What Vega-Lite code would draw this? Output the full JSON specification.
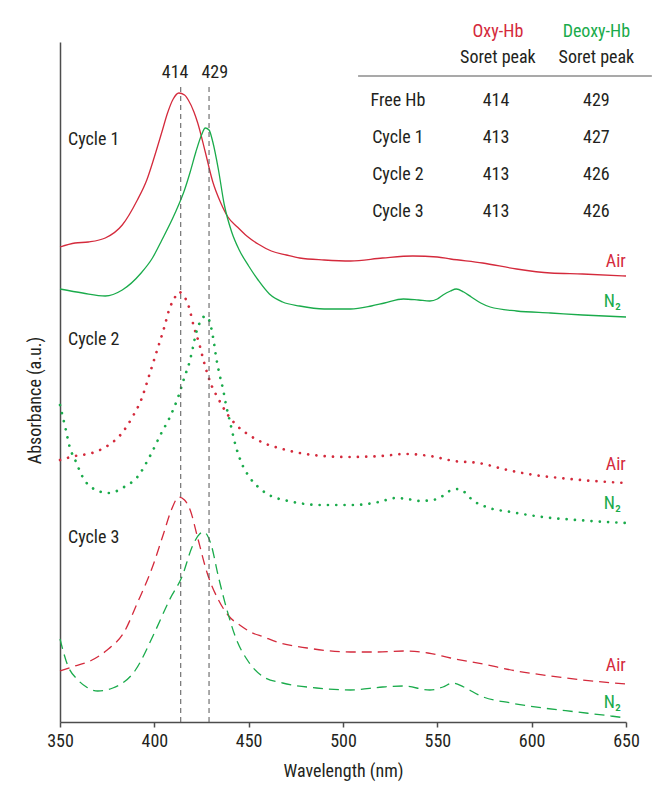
{
  "$schema": "https://vega.github.io/schema/vega-lite/v6.json",
  "width": 566,
  "height": 680,
  "autosize": {"type": "none"},
  "padding": {"left": 60, "top": 42, "right": 42, "bottom": 73},
  "config": {
    "font": "Roboto Condensed",
    "view": {"stroke": null},
    "text": {"fontSize": 18, "color": "#231f20"}
  },
  "datasets": {
    "spectra": [
      {"nm":350,"A":4.75,"gas":"Air","cycle":"Cycle 1"},{"nm":358,"A":4.79,"gas":"Air","cycle":"Cycle 1"},{"nm":365,"A":4.80,"gas":"Air","cycle":"Cycle 1"},{"nm":374,"A":4.84,"gas":"Air","cycle":"Cycle 1"},{"nm":383,"A":4.97,"gas":"Air","cycle":"Cycle 1"},{"nm":391,"A":5.22,"gas":"Air","cycle":"Cycle 1"},{"nm":396,"A":5.42,"gas":"Air","cycle":"Cycle 1"},{"nm":400,"A":5.65,"gas":"Air","cycle":"Cycle 1"},{"nm":404,"A":5.90,"gas":"Air","cycle":"Cycle 1"},{"nm":407,"A":6.09,"gas":"Air","cycle":"Cycle 1"},{"nm":410,"A":6.23,"gas":"Air","cycle":"Cycle 1"},{"nm":413,"A":6.29,"gas":"Air","cycle":"Cycle 1"},{"nm":416,"A":6.27,"gas":"Air","cycle":"Cycle 1"},{"nm":418,"A":6.22,"gas":"Air","cycle":"Cycle 1"},{"nm":421,"A":6.10,"gas":"Air","cycle":"Cycle 1"},{"nm":423,"A":5.99,"gas":"Air","cycle":"Cycle 1"},{"nm":427,"A":5.70,"gas":"Air","cycle":"Cycle 1"},{"nm":431,"A":5.40,"gas":"Air","cycle":"Cycle 1"},{"nm":435,"A":5.20,"gas":"Air","cycle":"Cycle 1"},{"nm":439,"A":5.05,"gas":"Air","cycle":"Cycle 1"},{"nm":444,"A":4.95,"gas":"Air","cycle":"Cycle 1"},{"nm":449,"A":4.86,"gas":"Air","cycle":"Cycle 1"},{"nm":455,"A":4.78,"gas":"Air","cycle":"Cycle 1"},{"nm":462,"A":4.71,"gas":"Air","cycle":"Cycle 1"},{"nm":470,"A":4.67,"gas":"Air","cycle":"Cycle 1"},{"nm":477,"A":4.64,"gas":"Air","cycle":"Cycle 1"},{"nm":490,"A":4.62,"gas":"Air","cycle":"Cycle 1"},{"nm":504,"A":4.61,"gas":"Air","cycle":"Cycle 1"},{"nm":521,"A":4.64,"gas":"Air","cycle":"Cycle 1"},{"nm":537,"A":4.66,"gas":"Air","cycle":"Cycle 1"},{"nm":550,"A":4.65,"gas":"Air","cycle":"Cycle 1"},{"nm":557,"A":4.63,"gas":"Air","cycle":"Cycle 1"},{"nm":574,"A":4.59,"gas":"Air","cycle":"Cycle 1"},{"nm":592,"A":4.53,"gas":"Air","cycle":"Cycle 1"},{"nm":610,"A":4.49,"gas":"Air","cycle":"Cycle 1"},{"nm":627,"A":4.48,"gas":"Air","cycle":"Cycle 1"},{"nm":650,"A":4.46,"gas":"Air","cycle":"Cycle 1"},
      {"nm":350,"A":4.33,"gas":"N2","cycle":"Cycle 1"},{"nm":362,"A":4.29,"gas":"N2","cycle":"Cycle 1"},{"nm":374,"A":4.26,"gas":"N2","cycle":"Cycle 1"},{"nm":383,"A":4.32,"gas":"N2","cycle":"Cycle 1"},{"nm":393,"A":4.49,"gas":"N2","cycle":"Cycle 1"},{"nm":399,"A":4.64,"gas":"N2","cycle":"Cycle 1"},{"nm":404,"A":4.82,"gas":"N2","cycle":"Cycle 1"},{"nm":411,"A":5.09,"gas":"N2","cycle":"Cycle 1"},{"nm":416,"A":5.32,"gas":"N2","cycle":"Cycle 1"},{"nm":419,"A":5.50,"gas":"N2","cycle":"Cycle 1"},{"nm":422,"A":5.70,"gas":"N2","cycle":"Cycle 1"},{"nm":425,"A":5.87,"gas":"N2","cycle":"Cycle 1"},{"nm":427,"A":5.94,"gas":"N2","cycle":"Cycle 1"},{"nm":429,"A":5.92,"gas":"N2","cycle":"Cycle 1"},{"nm":431,"A":5.80,"gas":"N2","cycle":"Cycle 1"},{"nm":434,"A":5.52,"gas":"N2","cycle":"Cycle 1"},{"nm":437,"A":5.18,"gas":"N2","cycle":"Cycle 1"},{"nm":441,"A":4.90,"gas":"N2","cycle":"Cycle 1"},{"nm":445,"A":4.72,"gas":"N2","cycle":"Cycle 1"},{"nm":450,"A":4.56,"gas":"N2","cycle":"Cycle 1"},{"nm":455,"A":4.42,"gas":"N2","cycle":"Cycle 1"},{"nm":461,"A":4.28,"gas":"N2","cycle":"Cycle 1"},{"nm":468,"A":4.20,"gas":"N2","cycle":"Cycle 1"},{"nm":477,"A":4.16,"gas":"N2","cycle":"Cycle 1"},{"nm":490,"A":4.13,"gas":"N2","cycle":"Cycle 1"},{"nm":504,"A":4.13,"gas":"N2","cycle":"Cycle 1"},{"nm":515,"A":4.16,"gas":"N2","cycle":"Cycle 1"},{"nm":522,"A":4.19,"gas":"N2","cycle":"Cycle 1"},{"nm":532,"A":4.23,"gas":"N2","cycle":"Cycle 1"},{"nm":540,"A":4.22,"gas":"N2","cycle":"Cycle 1"},{"nm":546,"A":4.21,"gas":"N2","cycle":"Cycle 1"},{"nm":550,"A":4.23,"gas":"N2","cycle":"Cycle 1"},{"nm":553,"A":4.27,"gas":"N2","cycle":"Cycle 1"},{"nm":557,"A":4.31,"gas":"N2","cycle":"Cycle 1"},{"nm":560,"A":4.33,"gas":"N2","cycle":"Cycle 1"},{"nm":564,"A":4.30,"gas":"N2","cycle":"Cycle 1"},{"nm":568,"A":4.25,"gas":"N2","cycle":"Cycle 1"},{"nm":573,"A":4.19,"gas":"N2","cycle":"Cycle 1"},{"nm":578,"A":4.15,"gas":"N2","cycle":"Cycle 1"},{"nm":592,"A":4.11,"gas":"N2","cycle":"Cycle 1"},{"nm":610,"A":4.09,"gas":"N2","cycle":"Cycle 1"},{"nm":627,"A":4.07,"gas":"N2","cycle":"Cycle 1"},{"nm":650,"A":4.05,"gas":"N2","cycle":"Cycle 1"},
      {"nm":350,"A":2.62,"gas":"Air","cycle":"Cycle 2"},{"nm":358,"A":2.66,"gas":"Air","cycle":"Cycle 2"},{"nm":367,"A":2.69,"gas":"Air","cycle":"Cycle 2"},{"nm":375,"A":2.76,"gas":"Air","cycle":"Cycle 2"},{"nm":382,"A":2.87,"gas":"Air","cycle":"Cycle 2"},{"nm":389,"A":3.07,"gas":"Air","cycle":"Cycle 2"},{"nm":393,"A":3.22,"gas":"Air","cycle":"Cycle 2"},{"nm":397,"A":3.45,"gas":"Air","cycle":"Cycle 2"},{"nm":401,"A":3.69,"gas":"Air","cycle":"Cycle 2"},{"nm":405,"A":3.93,"gas":"Air","cycle":"Cycle 2"},{"nm":408,"A":4.13,"gas":"Air","cycle":"Cycle 2"},{"nm":411,"A":4.25,"gas":"Air","cycle":"Cycle 2"},{"nm":413,"A":4.30,"gas":"Air","cycle":"Cycle 2"},{"nm":416,"A":4.25,"gas":"Air","cycle":"Cycle 2"},{"nm":418,"A":4.17,"gas":"Air","cycle":"Cycle 2"},{"nm":421,"A":3.95,"gas":"Air","cycle":"Cycle 2"},{"nm":424,"A":3.77,"gas":"Air","cycle":"Cycle 2"},{"nm":426,"A":3.62,"gas":"Air","cycle":"Cycle 2"},{"nm":430,"A":3.38,"gas":"Air","cycle":"Cycle 2"},{"nm":434,"A":3.23,"gas":"Air","cycle":"Cycle 2"},{"nm":439,"A":3.07,"gas":"Air","cycle":"Cycle 2"},{"nm":444,"A":2.96,"gas":"Air","cycle":"Cycle 2"},{"nm":451,"A":2.86,"gas":"Air","cycle":"Cycle 2"},{"nm":458,"A":2.79,"gas":"Air","cycle":"Cycle 2"},{"nm":468,"A":2.73,"gas":"Air","cycle":"Cycle 2"},{"nm":484,"A":2.67,"gas":"Air","cycle":"Cycle 2"},{"nm":502,"A":2.65,"gas":"Air","cycle":"Cycle 2"},{"nm":520,"A":2.66,"gas":"Air","cycle":"Cycle 2"},{"nm":533,"A":2.68,"gas":"Air","cycle":"Cycle 2"},{"nm":546,"A":2.66,"gas":"Air","cycle":"Cycle 2"},{"nm":559,"A":2.61,"gas":"Air","cycle":"Cycle 2"},{"nm":572,"A":2.59,"gas":"Air","cycle":"Cycle 2"},{"nm":585,"A":2.53,"gas":"Air","cycle":"Cycle 2"},{"nm":598,"A":2.48,"gas":"Air","cycle":"Cycle 2"},{"nm":615,"A":2.44,"gas":"Air","cycle":"Cycle 2"},{"nm":633,"A":2.41,"gas":"Air","cycle":"Cycle 2"},{"nm":650,"A":2.39,"gas":"Air","cycle":"Cycle 2"},
      {"nm":350,"A":3.17,"gas":"N2","cycle":"Cycle 2"},{"nm":351,"A":3.09,"gas":"N2","cycle":"Cycle 2"},{"nm":353,"A":2.93,"gas":"N2","cycle":"Cycle 2"},{"nm":355,"A":2.76,"gas":"N2","cycle":"Cycle 2"},{"nm":358.5,"A":2.60,"gas":"N2","cycle":"Cycle 2"},{"nm":362,"A":2.45,"gas":"N2","cycle":"Cycle 2"},{"nm":368,"A":2.33,"gas":"N2","cycle":"Cycle 2"},{"nm":376,"A":2.29,"gas":"N2","cycle":"Cycle 2"},{"nm":384,"A":2.35,"gas":"N2","cycle":"Cycle 2"},{"nm":391,"A":2.45,"gas":"N2","cycle":"Cycle 2"},{"nm":398,"A":2.67,"gas":"N2","cycle":"Cycle 2"},{"nm":404,"A":2.90,"gas":"N2","cycle":"Cycle 2"},{"nm":408,"A":3.04,"gas":"N2","cycle":"Cycle 2"},{"nm":413,"A":3.27,"gas":"N2","cycle":"Cycle 2"},{"nm":416,"A":3.45,"gas":"N2","cycle":"Cycle 2"},{"nm":418.5,"A":3.59,"gas":"N2","cycle":"Cycle 2"},{"nm":420.5,"A":3.75,"gas":"N2","cycle":"Cycle 2"},{"nm":422,"A":3.88,"gas":"N2","cycle":"Cycle 2"},{"nm":424,"A":3.99,"gas":"N2","cycle":"Cycle 2"},{"nm":426,"A":4.05,"gas":"N2","cycle":"Cycle 2"},{"nm":427,"A":4.06,"gas":"N2","cycle":"Cycle 2"},{"nm":429,"A":4.02,"gas":"N2","cycle":"Cycle 2"},{"nm":431,"A":3.86,"gas":"N2","cycle":"Cycle 2"},{"nm":433,"A":3.62,"gas":"N2","cycle":"Cycle 2"},{"nm":434.5,"A":3.48,"gas":"N2","cycle":"Cycle 2"},{"nm":436.5,"A":3.32,"gas":"N2","cycle":"Cycle 2"},{"nm":438,"A":3.17,"gas":"N2","cycle":"Cycle 2"},{"nm":440,"A":3.01,"gas":"N2","cycle":"Cycle 2"},{"nm":443,"A":2.77,"gas":"N2","cycle":"Cycle 2"},{"nm":446,"A":2.60,"gas":"N2","cycle":"Cycle 2"},{"nm":450,"A":2.46,"gas":"N2","cycle":"Cycle 2"},{"nm":455,"A":2.35,"gas":"N2","cycle":"Cycle 2"},{"nm":459,"A":2.29,"gas":"N2","cycle":"Cycle 2"},{"nm":471,"A":2.21,"gas":"N2","cycle":"Cycle 2"},{"nm":489,"A":2.17,"gas":"N2","cycle":"Cycle 2"},{"nm":506,"A":2.17,"gas":"N2","cycle":"Cycle 2"},{"nm":519,"A":2.20,"gas":"N2","cycle":"Cycle 2"},{"nm":528,"A":2.24,"gas":"N2","cycle":"Cycle 2"},{"nm":534,"A":2.23,"gas":"N2","cycle":"Cycle 2"},{"nm":541,"A":2.21,"gas":"N2","cycle":"Cycle 2"},{"nm":550,"A":2.23,"gas":"N2","cycle":"Cycle 2"},{"nm":556.5,"A":2.31,"gas":"N2","cycle":"Cycle 2"},{"nm":561,"A":2.33,"gas":"N2","cycle":"Cycle 2"},{"nm":565,"A":2.29,"gas":"N2","cycle":"Cycle 2"},{"nm":568,"A":2.23,"gas":"N2","cycle":"Cycle 2"},{"nm":576,"A":2.15,"gas":"N2","cycle":"Cycle 2"},{"nm":589,"A":2.10,"gas":"N2","cycle":"Cycle 2"},{"nm":606,"A":2.05,"gas":"N2","cycle":"Cycle 2"},{"nm":624,"A":2.02,"gas":"N2","cycle":"Cycle 2"},{"nm":650,"A":1.99,"gas":"N2","cycle":"Cycle 2"},
      {"nm":350,"A":0.51,"gas":"Air","cycle":"Cycle 3"},{"nm":358,"A":0.56,"gas":"Air","cycle":"Cycle 3"},{"nm":367,"A":0.62,"gas":"Air","cycle":"Cycle 3"},{"nm":375,"A":0.72,"gas":"Air","cycle":"Cycle 3"},{"nm":384,"A":0.90,"gas":"Air","cycle":"Cycle 3"},{"nm":391,"A":1.19,"gas":"Air","cycle":"Cycle 3"},{"nm":399,"A":1.55,"gas":"Air","cycle":"Cycle 3"},{"nm":405,"A":1.89,"gas":"Air","cycle":"Cycle 3"},{"nm":409,"A":2.12,"gas":"Air","cycle":"Cycle 3"},{"nm":413,"A":2.25,"gas":"Air","cycle":"Cycle 3"},{"nm":416,"A":2.22,"gas":"Air","cycle":"Cycle 3"},{"nm":419,"A":2.12,"gas":"Air","cycle":"Cycle 3"},{"nm":423,"A":1.84,"gas":"Air","cycle":"Cycle 3"},{"nm":428,"A":1.49,"gas":"Air","cycle":"Cycle 3"},{"nm":434,"A":1.22,"gas":"Air","cycle":"Cycle 3"},{"nm":439,"A":1.07,"gas":"Air","cycle":"Cycle 3"},{"nm":446,"A":0.96,"gas":"Air","cycle":"Cycle 3"},{"nm":451,"A":0.90,"gas":"Air","cycle":"Cycle 3"},{"nm":458,"A":0.85,"gas":"Air","cycle":"Cycle 3"},{"nm":465,"A":0.80,"gas":"Air","cycle":"Cycle 3"},{"nm":481,"A":0.74,"gas":"Air","cycle":"Cycle 3"},{"nm":504,"A":0.70,"gas":"Air","cycle":"Cycle 3"},{"nm":518,"A":0.70,"gas":"Air","cycle":"Cycle 3"},{"nm":532,"A":0.71,"gas":"Air","cycle":"Cycle 3"},{"nm":545,"A":0.69,"gas":"Air","cycle":"Cycle 3"},{"nm":557,"A":0.64,"gas":"Air","cycle":"Cycle 3"},{"nm":574,"A":0.58,"gas":"Air","cycle":"Cycle 3"},{"nm":592,"A":0.51,"gas":"Air","cycle":"Cycle 3"},{"nm":610,"A":0.46,"gas":"Air","cycle":"Cycle 3"},{"nm":627,"A":0.42,"gas":"Air","cycle":"Cycle 3"},{"nm":650,"A":0.38,"gas":"Air","cycle":"Cycle 3"},
      {"nm":350,"A":0.83,"gas":"N2","cycle":"Cycle 3"},{"nm":354,"A":0.57,"gas":"N2","cycle":"Cycle 3"},{"nm":359.5,"A":0.42,"gas":"N2","cycle":"Cycle 3"},{"nm":364,"A":0.35,"gas":"N2","cycle":"Cycle 3"},{"nm":370,"A":0.31,"gas":"N2","cycle":"Cycle 3"},{"nm":378,"A":0.34,"gas":"N2","cycle":"Cycle 3"},{"nm":390,"A":0.52,"gas":"N2","cycle":"Cycle 3"},{"nm":400,"A":0.89,"gas":"N2","cycle":"Cycle 3"},{"nm":408,"A":1.22,"gas":"N2","cycle":"Cycle 3"},{"nm":415,"A":1.47,"gas":"N2","cycle":"Cycle 3"},{"nm":420,"A":1.75,"gas":"N2","cycle":"Cycle 3"},{"nm":424,"A":1.88,"gas":"N2","cycle":"Cycle 3"},{"nm":426,"A":1.90,"gas":"N2","cycle":"Cycle 3"},{"nm":428,"A":1.87,"gas":"N2","cycle":"Cycle 3"},{"nm":430,"A":1.78,"gas":"N2","cycle":"Cycle 3"},{"nm":434,"A":1.45,"gas":"N2","cycle":"Cycle 3"},{"nm":438.5,"A":1.12,"gas":"N2","cycle":"Cycle 3"},{"nm":443,"A":0.85,"gas":"N2","cycle":"Cycle 3"},{"nm":450,"A":0.60,"gas":"N2","cycle":"Cycle 3"},{"nm":458,"A":0.45,"gas":"N2","cycle":"Cycle 3"},{"nm":468,"A":0.39,"gas":"N2","cycle":"Cycle 3"},{"nm":486,"A":0.34,"gas":"N2","cycle":"Cycle 3"},{"nm":504,"A":0.32,"gas":"N2","cycle":"Cycle 3"},{"nm":521,"A":0.35,"gas":"N2","cycle":"Cycle 3"},{"nm":532,"A":0.36,"gas":"N2","cycle":"Cycle 3"},{"nm":546,"A":0.32,"gas":"N2","cycle":"Cycle 3"},{"nm":553,"A":0.35,"gas":"N2","cycle":"Cycle 3"},{"nm":558,"A":0.39,"gas":"N2","cycle":"Cycle 3"},{"nm":564,"A":0.35,"gas":"N2","cycle":"Cycle 3"},{"nm":573,"A":0.26,"gas":"N2","cycle":"Cycle 3"},{"nm":589,"A":0.19,"gas":"N2","cycle":"Cycle 3"},{"nm":606,"A":0.14,"gas":"N2","cycle":"Cycle 3"},{"nm":624,"A":0.10,"gas":"N2","cycle":"Cycle 3"},{"nm":642,"A":0.06,"gas":"N2","cycle":"Cycle 3"},{"nm":650,"A":0.04,"gas":"N2","cycle":"Cycle 3"}
    ],
    "peaks": [{"peak": 414}, {"peak": 429}]
  },
  "layer": [
    {
      "data": {"name": "spectra"},
      "transform": [{"filter": "datum.cycle === 'Cycle 1'"}],
      "mark": {"type": "line", "interpolate": "monotone", "strokeWidth": 1.3},
      "encoding": {
        "x": {"field": "nm", "type": "quantitative", "scale": {"domain": [350, 650], "nice": false, "zero": false},
          "axis": {"values": [350, 400, 450, 500, 550, 600, 650], "format": "d", "title": "Wavelength (nm)", "grid": false,
            "domainColor": "#4d4d4d", "domainWidth": 1.5, "tickColor": "#4d4d4d", "tickWidth": 1.5, "tickSize": 5,
            "labelFont": "Roboto Condensed", "labelFontSize": 18, "labelColor": "#231f20", "labelPadding": 5, "labelFlush": false,
            "titleFont": "Roboto Condensed", "titleFontSize": 18, "titleFontWeight": "normal", "titleColor": "#231f20", "titleY": 49, "titleBaseline": "middle"}},
        "y": {"field": "A", "type": "quantitative", "scale": {"domain": [0, 6.8], "nice": false, "zero": false},
          "axis": {"title": "Absorbance (a.u.)", "labels": false, "ticks": false, "grid": false,
            "domainColor": "#4d4d4d", "domainWidth": 1.5, "titleFont": "Roboto Condensed", "titleFontSize": 18, "titleFontWeight": "normal", "titleColor": "#231f20",
            "titleX": -25, "titleY": 358, "titleAngle": -90, "titleBaseline": "middle", "titleAlign": "center"}},
        "color": {"field": "gas", "type": "nominal", "scale": {"domain": ["Air", "N2"], "range": ["#d42a3c", "#1aab4b"]}, "legend": null}
      }
    },
    {
      "data": {"name": "spectra"},
      "transform": [{"filter": "datum.cycle === 'Cycle 2'"}],
      "mark": {"type": "line", "interpolate": "monotone", "strokeWidth": 2.7, "strokeCap": "round", "strokeDash": [0.01, 8.3]},
      "encoding": {
        "x": {"field": "nm", "type": "quantitative"},
        "y": {"field": "A", "type": "quantitative"},
        "color": {"field": "gas", "type": "nominal", "legend": null}
      }
    },
    {
      "data": {"name": "spectra"},
      "transform": [{"filter": "datum.cycle === 'Cycle 3'"}],
      "mark": {"type": "line", "interpolate": "monotone", "strokeWidth": 1.3, "strokeDash": [10, 6]},
      "encoding": {
        "x": {"field": "nm", "type": "quantitative"},
        "y": {"field": "A", "type": "quantitative"},
        "color": {"field": "gas", "type": "nominal", "legend": null}
      }
    },
    {
      "data": {"name": "peaks"},
      "mark": {"type": "rule", "color": "#555555", "strokeWidth": 1, "strokeDash": [5, 4]},
      "encoding": {
        "x": {"field": "peak", "type": "quantitative"},
        "y": {"datum": 0},
        "y2": {"datum": 6.36}
      }
    },
    {"data": {"values": [{}]}, "mark": {"type": "text", "text": "414", "align": "center", "baseline": "middle"}, "encoding": {"x": {"datum": 411}, "y": {"datum": 6.49}}},
    {"data": {"values": [{}]}, "mark": {"type": "text", "text": "429", "align": "center", "baseline": "middle"}, "encoding": {"x": {"datum": 432}, "y": {"datum": 6.49}}},
    {"data": {"values": [{}]}, "mark": {"type": "text", "text": "Cycle 1", "align": "left", "baseline": "middle"}, "encoding": {"x": {"datum": 354.2}, "y": {"datum": 5.82}}},
    {"data": {"values": [{}]}, "mark": {"type": "text", "text": "Cycle 2", "align": "left", "baseline": "middle"}, "encoding": {"x": {"datum": 354.2}, "y": {"datum": 3.82}}},
    {"data": {"values": [{}]}, "mark": {"type": "text", "text": "Cycle 3", "align": "left", "baseline": "middle"}, "encoding": {"x": {"datum": 354.2}, "y": {"datum": 1.84}}},
    {"data": {"values": [{}]}, "mark": {"type": "text", "text": "Air", "align": "center", "baseline": "middle", "color": "#d42a3c"}, "encoding": {"x": {"datum": 644.6}, "y": {"datum": 4.60}}},
    {"data": {"values": [{}]}, "mark": {"type": "text", "text": "Air", "align": "center", "baseline": "middle", "color": "#d42a3c"}, "encoding": {"x": {"datum": 644.6}, "y": {"datum": 2.57}}},
    {"data": {"values": [{}]}, "mark": {"type": "text", "text": "Air", "align": "center", "baseline": "middle", "color": "#d42a3c"}, "encoding": {"x": {"datum": 644.6}, "y": {"datum": 0.56}}},
    {"data": {"values": [{}]}, "mark": {"type": "text", "text": "N₂", "align": "center", "baseline": "middle", "color": "#1aab4b"}, "encoding": {"x": {"datum": 642.8}, "y": {"datum": 4.20}}},
    {"data": {"values": [{}]}, "mark": {"type": "text", "text": "N₂", "align": "center", "baseline": "middle", "color": "#1aab4b"}, "encoding": {"x": {"datum": 642.8}, "y": {"datum": 2.18}}},
    {"data": {"values": [{}]}, "mark": {"type": "text", "text": "N₂", "align": "center", "baseline": "middle", "color": "#1aab4b"}, "encoding": {"x": {"datum": 642.8}, "y": {"datum": 0.19}}},
    {"data": {"values": [{}]}, "mark": {"type": "text", "text": "Oxy-Hb", "align": "center", "baseline": "middle", "color": "#d42a3c"}, "encoding": {"x": {"datum": 582.1}, "y": {"datum": 6.90}}},
    {"data": {"values": [{}]}, "mark": {"type": "text", "text": "Deoxy-Hb", "align": "center", "baseline": "middle", "color": "#1aab4b"}, "encoding": {"x": {"datum": 634.3}, "y": {"datum": 6.90}}},
    {"data": {"values": [{}]}, "mark": {"type": "text", "text": "Soret peak", "align": "center", "baseline": "middle"}, "encoding": {"x": {"datum": 582.1}, "y": {"datum": 6.64}}},
    {"data": {"values": [{}]}, "mark": {"type": "text", "text": "Soret peak", "align": "center", "baseline": "middle"}, "encoding": {"x": {"datum": 634.3}, "y": {"datum": 6.64}}},
    {"data": {"values": [{}]}, "mark": {"type": "rule", "color": "#8c8c8c", "strokeWidth": 1.5}, "encoding": {"x": {"datum": 508}, "x2": {"datum": 663.7}, "y": {"datum": 6.46}}},
    {"data": {"values": [{}]}, "mark": {"type": "text", "text": ["Free Hb", "Cycle 1", "Cycle 2", "Cycle 3"], "lineHeight": 37, "align": "center", "baseline": "middle"}, "encoding": {"x": {"datum": 529.1}, "y": {"datum": 6.21}}},
    {"data": {"values": [{}]}, "mark": {"type": "text", "text": ["414", "413", "413", "413"], "lineHeight": 37, "align": "center", "baseline": "middle"}, "encoding": {"x": {"datum": 581.1}, "y": {"datum": 6.21}}},
    {"data": {"values": [{}]}, "mark": {"type": "text", "text": ["429", "427", "426", "426"], "lineHeight": 37, "align": "center", "baseline": "middle"}, "encoding": {"x": {"datum": 634.3}, "y": {"datum": 6.21}}}
  ]
}
